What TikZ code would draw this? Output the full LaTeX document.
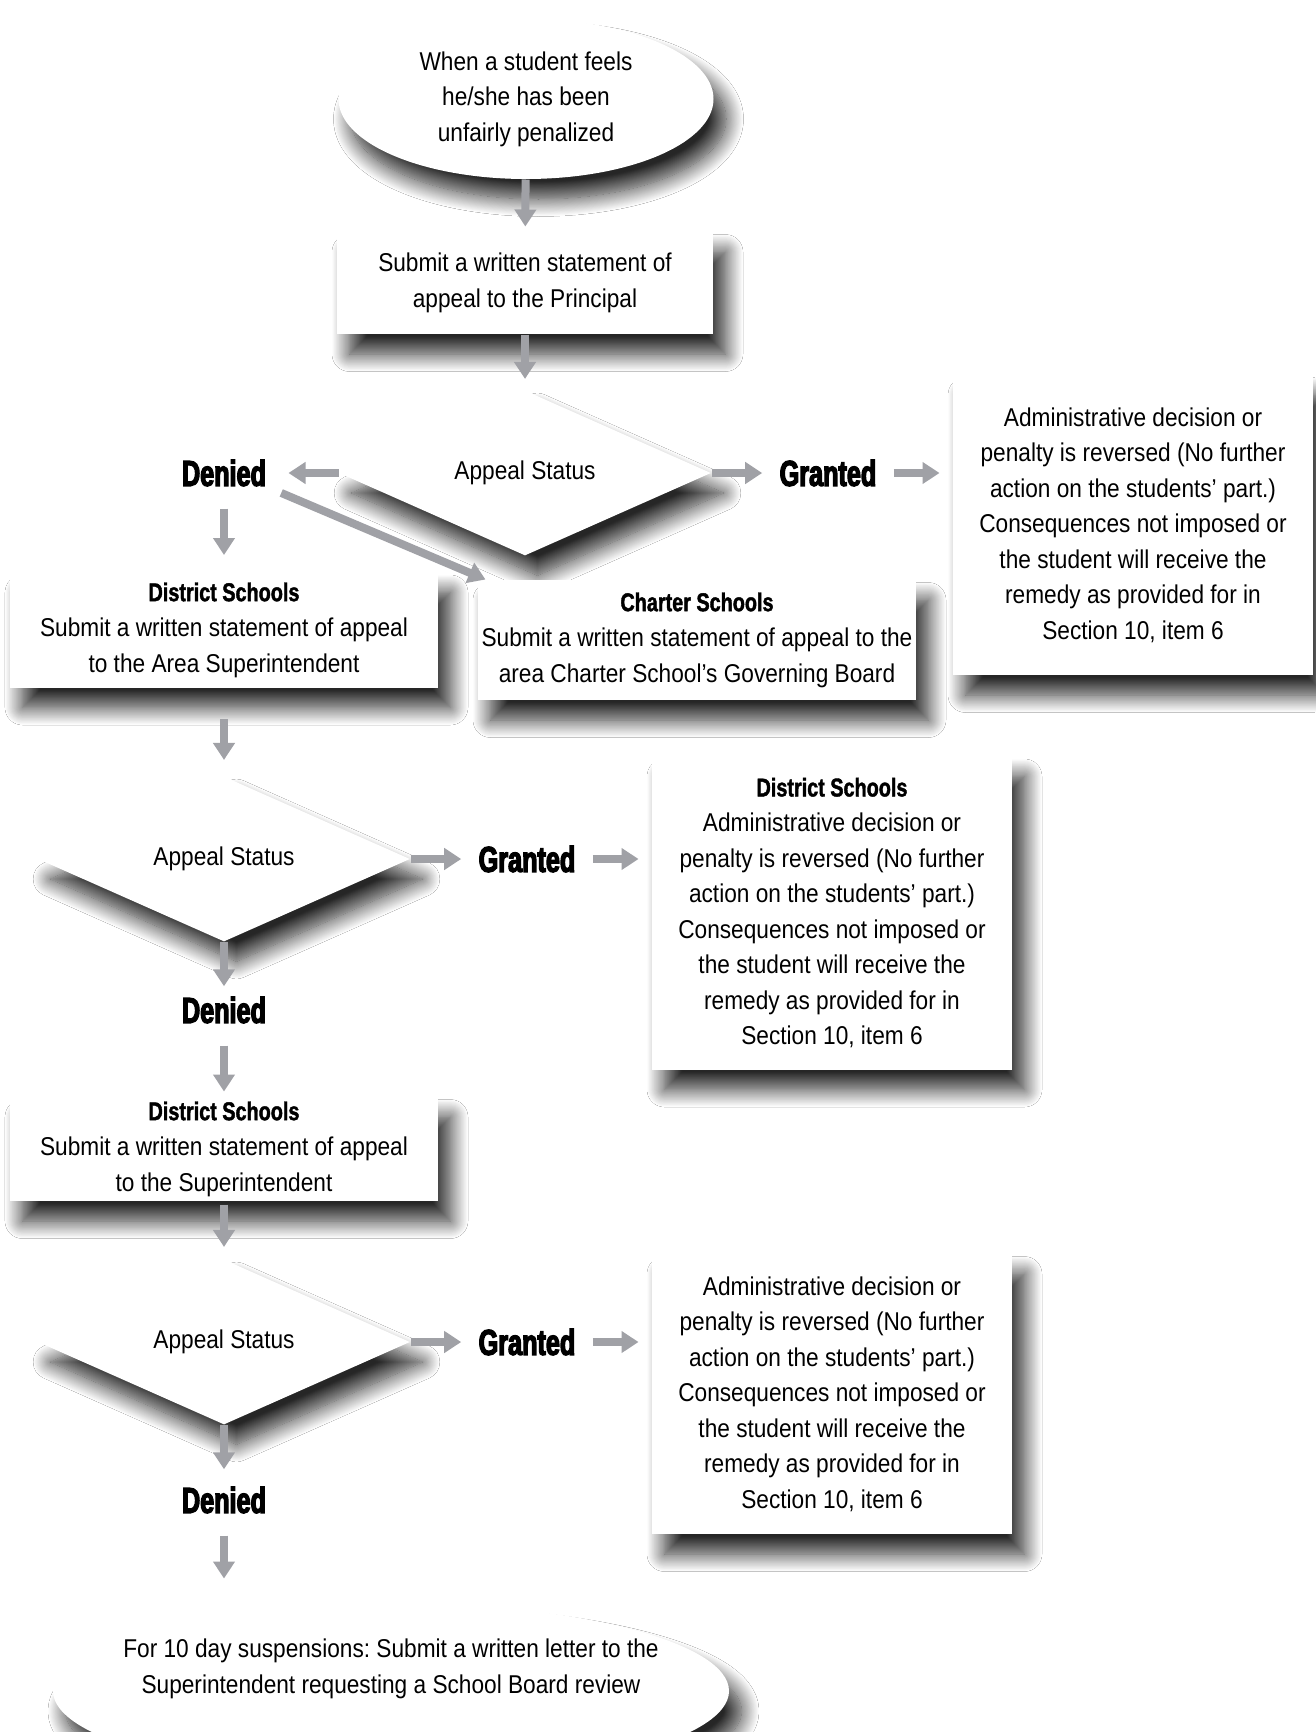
\documentclass[tikz,border=0pt]{standalone}
\usepackage{fontspec}
\setmainfont{Liberation Sans}[FakeStretch=0.88]
\newfontfamily\headfont{Liberation Sans}[FakeStretch=0.77,BoldFeatures={FakeBold=1.5}]
\newfontfamily\verdictfont{Liberation Sans}[FakeStretch=0.70,BoldFeatures={FakeBold=3.5}]
\usetikzlibrary{shapes.geometric,arrows.meta,shadows.blur}
\definecolor{arrowgray}{RGB}{160,161,166}
\frenchspacing
\newcommand{\headline}[1]{{\headfont\bfseries #1}}
\newcommand{\remedytext}{Administrative decision or\\penalty is reversed (No further\\action on the students’ part.)\\Consequences not imposed or\\the student will receive the\\remedy as provided for in\\Section 10, item 6}

\begin{document}
\begin{tikzpicture}[x=0.4pt,y=0.4pt,
    every node/.style={font=\fontsize{10.3}{14.2}\selectfont, align=center, inner sep=0pt},
    shade box/.style={fill=white, blur shadow={shadow xshift=5pt,shadow yshift=-8pt,shadow blur radius=7pt,shadow blur steps=20,shadow opacity=85}},
    stepbox/.style={shade box, rectangle},
    oval/.style={shade box, ellipse},
    decide/.style={shade box, diamond, minimum width=148.8pt, minimum height=64.8pt},
    verdict/.style={font=\verdictfont\bfseries\fontsize{14.4}{16}\selectfont},
    flow/.style={draw=arrowgray, line width=3.2pt, -{Triangle[width=8.4pt,length=6.8pt]}}]
  \path[use as bounding box, fill=white] (0,0) rectangle (1315,-1732);

  % first level
  \node[oval, minimum width=150pt, minimum height=64pt] (start) at (526,-99) {When a student feels\\he/she has been\\unfairly penalized};
  \node[stepbox, minimum width=150.4pt, minimum height=40.8pt] (principal) at (525,-283) {Submit a written statement of\\appeal to the Principal};
  \node[decide] (status1) at (525,-473) {Appeal Status};
  \node[verdict] (denied1) at (224,-473) {Denied};
  \node[verdict] (granted1) at (828,-473) {Granted};
  \node[stepbox, minimum width=144pt, minimum height=120pt] (remedy1) at (1133,-525) {\remedytext};
  \node[stepbox, minimum width=171.2pt, minimum height=46pt] (district1) at (224,-630) {\headline{District Schools}\\Submit a written statement of appeal\\to the Area Superintendent};
  \node[stepbox, minimum width=175.2pt, minimum height=48pt] (charter) at (697,-640) {\headline{Charter Schools}\\Submit a written statement of appeal to the\\area Charter School’s Governing Board};

  % second level
  \node[decide] (status2) at (224,-859) {Appeal Status};
  \node[verdict] (granted2) at (527,-859) {Granted};
  \node[stepbox, minimum width=144pt, minimum height=125.2pt] (remedy2) at (832,-913) {\headline{District Schools}\\\remedytext};
  \node[verdict] (denied2) at (224,-1010) {Denied};
  \node[stepbox, minimum width=171.2pt, minimum height=41.6pt] (district2) at (224,-1149) {\headline{District Schools}\\Submit a written statement of appeal\\to the Superintendent};

  % third level
  \node[decide] (status3) at (224,-1342) {Appeal Status};
  \node[verdict] (granted3) at (527,-1342) {Granted};
  \node[stepbox, minimum width=144pt, minimum height=112pt] (remedy3) at (832,-1394) {\remedytext};
  \node[verdict] (denied3) at (224,-1500) {Denied};
  \node[oval, inner xsep=-30pt, text depth=20pt, minimum width=270.4pt, minimum height=70.4pt] (review) at (391,-1691) {For 10 day suspensions: Submit a written letter to the\\Superintendent requesting a School Board review};

  % connectors
  \draw[flow, shorten >=2pt] (start) -- (principal);
  \draw[flow, shorten >=4.4pt] (principal) -- (status1);
  \draw[flow, shorten >=8.8pt] (status1.west) -- (denied1);
  \draw[flow, shorten >=6.8pt] (status1.east) -- (granted1);
  \draw[flow, shorten <=6.8pt, shorten >=5.2pt] (granted1) -- (granted1 -| remedy1.west);
  \draw[flow, shorten <=8.8pt, shorten >=6.8pt] (denied1) -- (district1);
  \draw[flow, shorten <=6.4pt] (denied1.south east) -- ([xshift=3.2pt]charter.north west);
  \draw[flow, shorten <=12.4pt, shorten >=6.4pt] (district1) -- (status2);
  \draw[flow, shorten >=6.8pt] (status2.east) -- (granted2);
  \draw[flow, shorten <=6.8pt, shorten >=5.2pt] (granted2) -- (granted2 -| remedy2.west);
  \draw[flow, shorten >=4pt] (status2.south) -- (denied2);
  \draw[flow, shorten <=8.8pt, shorten >=2pt] (denied2) -- (district2);
  \draw[flow, shorten <=1.2pt, shorten >=4.8pt] (district2) -- (status3);
  \draw[flow, shorten >=6.8pt] (status3.east) -- (granted3);
  \draw[flow, shorten <=6.8pt, shorten >=5.2pt] (granted3) -- (granted3 -| remedy3.west);
  \draw[flow, shorten >=6.8pt] (status3.south) -- (denied3);
  \draw[flow, shorten <=8.8pt, shorten >=9.6pt] (denied3) -- (denied3 |- review.north);
\end{tikzpicture}
\end{document}
